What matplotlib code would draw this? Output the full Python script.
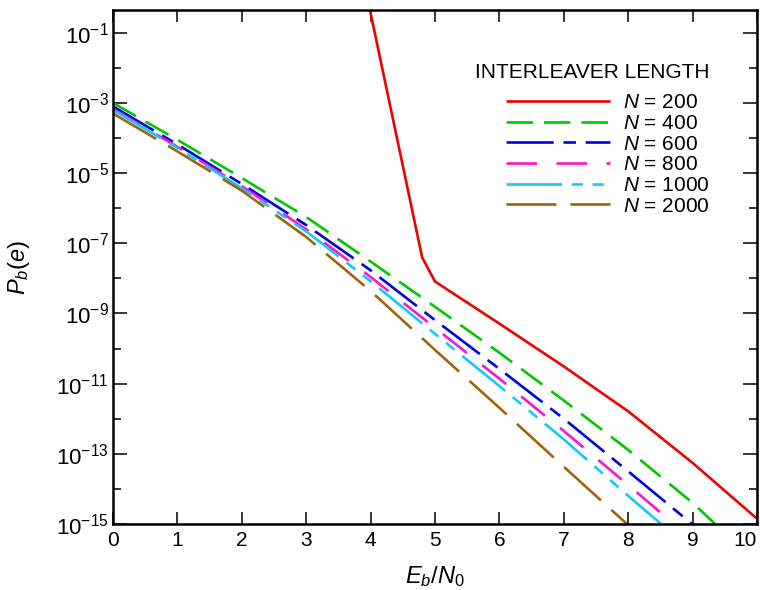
import matplotlib
matplotlib.use("Agg")
import matplotlib.pyplot as plt
from matplotlib.ticker import FixedLocator, NullFormatter, LogFormatterSciNotation
import numpy as np

plt.rcParams['font.family'] = ['Liberation Sans', 'DejaVu Sans']
plt.rcParams['mathtext.fontset'] = 'custom'
plt.rcParams['mathtext.rm'] = 'Liberation Sans'
plt.rcParams['mathtext.it'] = 'Liberation Sans:italic'
plt.rcParams['lines.scale_dashes'] = False

# Eb/N0 (dB) and log10 of bit error probability
x_200 = [3.95, 4.8, 5.0, 6, 7, 8, 9, 10]
p_200 = [0.0, -7.4, -8.09, -9.29, -10.51, -11.79, -13.26, -14.85]

x_400 = [0, 1, 2, 3, 4, 5, 6, 7, 8, 9, 9.35]
p_400 = [-3.0, -4.05, -5.14, -6.25, -7.52, -8.81, -10.12, -11.48, -12.89, -14.4, -15.0]

x_600 = [0, 1, 2, 3, 4, 5, 6, 7, 8, 8.99]
p_600 = [-3.1, -4.18, -5.31, -6.48, -7.77, -9.19, -10.58, -12.0, -13.5, -15.0]

x_800 = [0, 1, 2, 3, 4, 5, 6, 7, 8, 8.71]
p_800 = [-3.17, -4.25, -5.37, -6.6, -7.96, -9.41, -10.86, -12.35, -13.89, -15.0]

x_1000 = [0, 1, 2, 3, 4, 5, 6, 7, 8, 8.51]
p_1000 = [-3.2, -4.28, -5.43, -6.66, -8.08, -9.58, -11.07, -12.59, -14.2, -15.0]

x_2000 = [0, 1, 2, 3, 4, 5, 6, 7, 7.98]
p_2000 = [-3.3, -4.38, -5.5, -6.82, -8.36, -10.04, -11.69, -13.37, -15.0]

labels = ["$N$ = 200", "$N$ = 400", "$N$ = 600", "$N$ = 800", "$N$ = 1000", "$N$ = 2000"]
colors = ["#f00000", "#00c800", "#0000e6", "#ff14c8", "#14c8ff", "#a0640a"]
styles = ["-", (0, (19, 8)), (0, (34, 7, 9, 7)), (0, (22, 14)),
          (0, (40, 7, 8, 7, 8, 7)), (0, (36, 10))]

fig, ax = plt.subplots(figsize=(7.6, 5.9), dpi=100)
fig.subplots_adjust(left=0.1487, right=0.996, top=0.983, bottom=0.112)

xs = [x_200, x_400, x_600, x_800, x_1000, x_2000]
ps = [p_200, p_400, p_600, p_800, p_1000, p_2000]
for xv, pv, lab, col, ls in zip(xs, ps, labels, colors, styles):
    ax.plot(xv, 10.0 ** np.array(pv), color=col, linestyle=ls, lw=1.9,
            label=lab, solid_capstyle='butt', dash_capstyle='butt')

ax.set_yscale('log')
ax.set_xlim(0, 10)
ax.set_ylim(1e-15, 10 ** -0.35)
ax.set_xticks(range(11))
ax.yaxis.set_major_locator(FixedLocator([10.0 ** e for e in range(-15, 0, 2)]))
ax.yaxis.set_minor_locator(FixedLocator([10.0 ** e for e in range(-14, 0, 2)]))
ax.yaxis.set_major_formatter(LogFormatterSciNotation())
ax.yaxis.set_minor_formatter(NullFormatter())

ax.tick_params(axis='both', which='both', direction='in', top=True, right=True,
               labelsize=15, width=1.1, pad=5)
ax.tick_params(axis='x', which='major', length=8.5)
ax.tick_params(axis='y', which='major', length=10, pad=3, labelsize=16)
ax.tick_params(axis='y', which='minor', length=6)
for sp in ax.spines.values():
    sp.set_linewidth(1.8)

# last x label sits inside the figure edge
fig.canvas.draw()
ax.get_xticklabels()[-1].set_horizontalalignment('right')

ax.set_xlabel("$E_b/N_0$", fontsize=17, labelpad=10)
ax.set_ylabel("$P_b(e)$", fontsize=17)
ax.yaxis.set_label_coords(-0.126, 0.5)

leg = ax.legend(loc='upper right', bbox_to_anchor=(0.942, 0.917), frameon=False,
                title="INTERLEAVER LENGTH", title_fontsize=15, fontsize=15,
                handlelength=5.0, handletextpad=0.6, labelspacing=0.08,
                borderpad=0, alignment='right')
leg._legend_box.sep = 8

fig.savefig("out.png", dpi=100)
